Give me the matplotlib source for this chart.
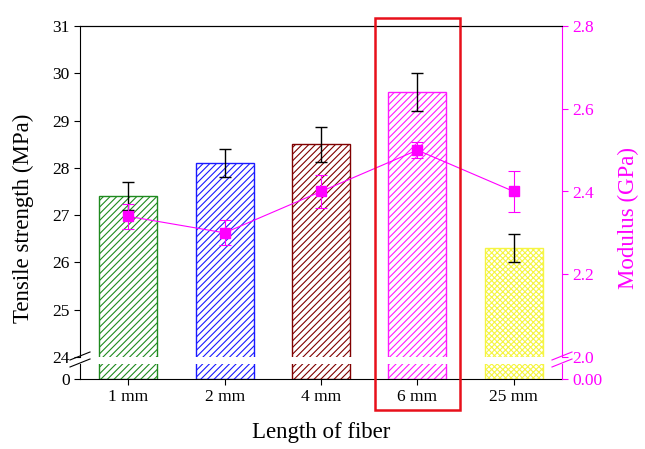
import numpy as np
import matplotlib
matplotlib.use("Agg")
import matplotlib.pyplot as plt
from matplotlib.patches import Rectangle
from matplotlib.transforms import blended_transform_factory

plt.rcParams['font.family'] = ['Liberation Serif', 'DejaVu Serif']
plt.rcParams['hatch.linewidth'] = 0.8

# data
lengths = ['1 mm', '2 mm', '4 mm', '6 mm', '25 mm']
strength = [27.4, 28.1, 28.5, 29.6, 26.3]
strength_err = [0.3, 0.3, 0.37, 0.4, 0.3]
modulus = [2.34, 2.30, 2.40, 2.50, 2.40]
modulus_err = [0.03, 0.03, 0.04, 0.02, 0.05]
bar_colors = ['#1f8a1f', '#1a1aff', '#800000', '#ff1aff', '#f5f542']
bar_hatches = ['/////', '/////', '/////', '/////', 'xxxxxx']

MAG = '#ff00ff'
W, H = 645, 449
fig = plt.figure(figsize=(W / 100, H / 100), dpi=100)

left, right = 80 / W, 562 / W
ax = fig.add_axes([left, 1 - 357 / H, right - left, (357 - 26) / H])
axb = fig.add_axes([left, 1 - 379 / H, right - left, (379 - 364) / H])
ax2 = ax.twinx()
axb2 = axb.twinx()

x = np.arange(len(lengths))
for a in (ax, axb):
    for i in range(len(lengths)):
        a.bar(x[i], strength[i], width=0.6, color='white', edgecolor=bar_colors[i],
              hatch=bar_hatches[i], linewidth=1.0, zorder=2)
ax.errorbar(x, strength, yerr=strength_err, fmt='none', ecolor='black',
            elinewidth=1, capsize=4, capthick=1, zorder=3)
ax2.errorbar(x, modulus, yerr=modulus_err, color=MAG, ecolor=MAG, lw=0.8,
             elinewidth=0.8, capsize=4, capthick=0.8, marker='s', markersize=7.5,
             mfc=MAG, mec=MAG, zorder=4)

ax.set_xlim(-0.5, 4.5)
axb.set_xlim(-0.5, 4.5)
ax.set_ylim(24, 31)
ax.set_yticks(range(24, 32))
ax2.set_ylim(2.0, 2.8)
ax2.set_yticks([2.0, 2.2, 2.4, 2.6, 2.8])
ax2.set_yticklabels(['2.0', '2.2', '2.4', '2.6', '2.8'])
axb.set_ylim(0, 1)
axb.set_yticks([0])
axb2.set_ylim(0, 1)
axb2.set_yticks([0])
axb2.set_yticklabels(['0.00'])

for a in (ax, ax2):
    a.set_xticks([])
    a.spines['bottom'].set_visible(False)
ax.spines['right'].set_visible(False)
ax2.spines['left'].set_visible(False)
ax2.spines['right'].set_color(MAG)
axb.spines['top'].set_visible(False)
axb2.spines['top'].set_visible(False)
axb.spines['right'].set_visible(False)
axb2.spines['left'].set_visible(False)
axb2.spines['right'].set_color(MAG)
axb2.spines['bottom'].set_visible(False)

axb.set_xticks(x)
axb.set_xticklabels(lengths)
for a in (ax, axb):
    a.tick_params(axis='y', direction='out', length=4, labelsize=12.5)
for a in (ax2, axb2):
    a.tick_params(axis='y', direction='out', length=4, labelsize=12.5,
                  colors=MAG)
axb.tick_params(axis='x', direction='out', length=4, labelsize=12.5)

ax.set_ylabel('Tensile strength (MPa)', fontsize=16.5)
ax.yaxis.set_label_coords(-0.095, 0.42)
ax2.set_ylabel('Modulus (GPa)', fontsize=16.5, color=MAG)
ax2.yaxis.set_label_coords(1.115, 0.42)
axb.set_xlabel('Length of fiber', fontsize=16.5, labelpad=12)

# break marks on both y axes
for xf, col in ((left, 'black'), (right, MAG)):
    for yp in (356, 363):
        yf = 1 - yp / H
        fig.add_artist(plt.Line2D([xf - 10 / W, xf + 10 / W],
                                  [yf - 4 / H, yf + 4 / H], color=col, lw=0.8))

# red highlight box around the 6 mm bar
tr = blended_transform_factory(ax.transData, fig.transFigure)
fig.add_artist(Rectangle((x[3] - 0.44, 1 - 410 / H), 0.88, (410 - 18) / H,
                         transform=tr, fill=False, edgecolor='#e8101a', lw=1.8,
                         clip_on=False))

fig.savefig('out.png', dpi=100)
